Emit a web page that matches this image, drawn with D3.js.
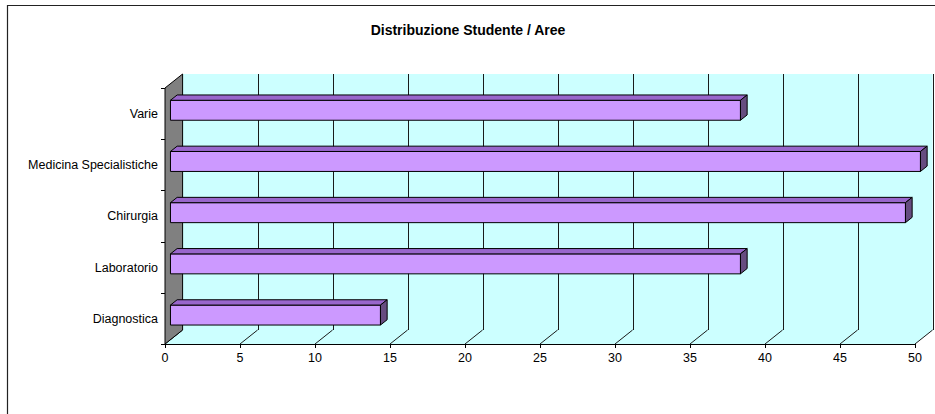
<!DOCTYPE html>
<html>
<head>
<meta charset="utf-8">
<script src="https://cdn.jsdelivr.net/npm/d3@7"></script>
<style>
  body { margin: 0; background: #fff; }
  svg { display: block; font-family: Arial, "Liberation Sans", sans-serif; }
</style>
</head>
<body>
<script>
// data
const categories = ["Varie", "Medicina Specialistiche", "Chirurgia", "Laboratorio", "Diagnostica"];
const values = [38, 50, 49, 38, 14];
const xTicks = [0, 5, 10, 15, 20, 25, 30, 35, 40, 45, 50];
const title = "Distribuzione Studente / Aree";

const width = 935, height = 414;

// 3d depth of the plot box
const DX = 17.6, DY = -14;
const barD0 = 0.31, barD1 = 0.69;

const x = d3.scaleLinear().domain([0, 50]).range([165, 915]);
const y = d3.scaleBand().domain(categories).range([88, 344])
    .paddingInner(0.61).paddingOuter(0.305);

const top0 = 88, bottom0 = 344;

// project a front-plane point back to depth t (0..1)
const P = (px, py, t) => [px + DX * t, py + DY * t];
const poly = pts => pts.map(p => p.join(",")).join(" ");

const svg = d3.select("body").append("svg")
    .attr("width", width)
    .attr("height", height);

// chart area border (runs off right and bottom)
svg.append("path")
    .attr("d", "M7.5,420V5.5H940")
    .attr("fill", "none")
    .attr("stroke", "#222")
    .attr("stroke-width", 1.2);

svg.append("text")
    .attr("x", 468)
    .attr("y", 35)
    .attr("text-anchor", "middle")
    .style("font-size", "14px")
    .style("font-weight", "bold")
    .text(title);

// back wall
svg.append("rect")
    .attr("x", x(0) + DX)
    .attr("y", top0 + DY)
    .attr("width", x(50) - x(0))
    .attr("height", bottom0 - top0)
    .attr("fill", "#ccffff");

// floor
svg.append("polygon")
    .attr("points", poly([[x(0), bottom0], [x(50), bottom0], P(x(50), bottom0, 1), P(x(0), bottom0, 1)]))
    .attr("fill", "#ccffff");

// gridlines on back wall
svg.selectAll("line.grid")
    .data(xTicks.filter(d => d > 0))
    .join("line")
    .attr("class", "grid")
    .attr("x1", d => Math.round(x(d) + DX) + 0.5)
    .attr("x2", d => Math.round(x(d) + DX) + 0.5)
    .attr("y1", top0 + DY)
    .attr("y2", bottom0 + DY)
    .attr("stroke", "#1a1a1a")
    .attr("stroke-width", 1);

// gridlines on floor
svg.selectAll("line.floor")
    .data(xTicks)
    .join("line")
    .attr("class", "floor")
    .attr("x1", d => x(d))
    .attr("y1", bottom0)
    .attr("x2", d => x(d) + DX)
    .attr("y2", bottom0 + DY)
    .attr("stroke", "#1a1a1a")
    .attr("stroke-width", 1);

// left side wall
svg.append("polygon")
    .attr("points", poly([[x(0), top0], P(x(0), top0, 1), P(x(0), bottom0, 1), [x(0), bottom0]]))
    .attr("fill", "#808080")
    .attr("stroke", "#000")
    .attr("stroke-width", 1)
    .attr("stroke-linejoin", "round");

// axes
svg.append("line")
    .attr("x1", x(0)).attr("x2", x(50))
    .attr("y1", bottom0 + 0.5).attr("y2", bottom0 + 0.5)
    .attr("stroke", "#000");

svg.selectAll("line.xtick")
    .data(xTicks)
    .join("line")
    .attr("class", "xtick")
    .attr("x1", d => Math.round(x(d)) + 0.5)
    .attr("x2", d => Math.round(x(d)) + 0.5)
    .attr("y1", bottom0)
    .attr("y2", bottom0 + 4)
    .attr("stroke", "#000");

svg.selectAll("text.xlab")
    .data(xTicks)
    .join("text")
    .attr("class", "xlab")
    .attr("x", d => x(d))
    .attr("y", bottom0 + 18)
    .attr("text-anchor", "middle")
    .style("font-size", "12.5px")
    .text(d => d);

const yBounds = d3.range(categories.length + 1).map(i => top0 + i * y.step());
svg.selectAll("line.ytick")
    .data(yBounds)
    .join("line")
    .attr("class", "ytick")
    .attr("x1", x(0) - 4)
    .attr("x2", x(0))
    .attr("y1", d => Math.round(d) + 0.5)
    .attr("y2", d => Math.round(d) + 0.5)
    .attr("stroke", "#000");

svg.selectAll("text.ylab")
    .data(categories)
    .join("text")
    .attr("class", "ylab")
    .attr("x", x(0) - 7)
    .attr("y", d => y(d) + y.bandwidth() / 2)
    .attr("dy", "0.35em")
    .attr("text-anchor", "end")
    .style("font-size", "12.5px")
    .text(d => d);

// 3d bars
const bars = svg.selectAll("g.bar")
    .data(categories.map((c, i) => ({ c, v: values[i] })))
    .join("g")
    .attr("class", "bar")
    .attr("stroke", "#000")
    .attr("stroke-width", 1)
    .attr("stroke-linejoin", "round");

bars.append("polygon")
    .attr("fill", "#cc99ff")
    .attr("points", d => {
        const y0 = y(d.c) + 1, y1 = y0 + y.bandwidth();
        return poly([P(x(0), y0, barD0), P(x(d.v), y0, barD0), P(x(d.v), y1, barD0), P(x(0), y1, barD0)]);
    });

bars.append("polygon")
    .attr("fill", "#9966cc")
    .attr("points", d => {
        const y0 = y(d.c) + 1;
        return poly([P(x(0), y0, barD0), P(x(d.v), y0, barD0), P(x(d.v), y0, barD1), P(x(0), y0, barD1)]);
    });

bars.append("polygon")
    .attr("fill", "#664c80")
    .attr("points", d => {
        const y0 = y(d.c) + 1, y1 = y0 + y.bandwidth();
        return poly([P(x(d.v), y0, barD0), P(x(d.v), y0, barD1), P(x(d.v), y1, barD1), P(x(d.v), y1, barD0)]);
    });
</script>
</body>
</html>
